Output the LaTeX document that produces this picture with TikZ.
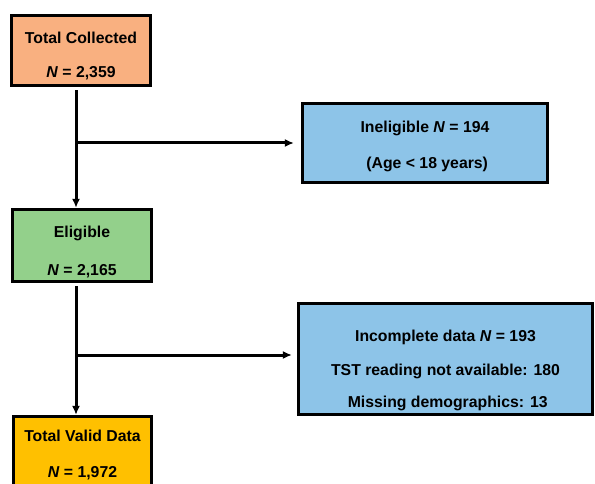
\documentclass[tikz,border=0pt]{standalone}
\usepackage{fontspec}
\setmainfont{Liberation Sans}
\usetikzlibrary{arrows.meta, calc}
\definecolor{collectfill}{HTML}{F9B080}
\definecolor{exclfill}{HTML}{8DC4E8}
\definecolor{eligfill}{HTML}{93D08B}
\definecolor{validfill}{HTML}{FFC000}
\tikzstyle{box} = [rectangle, draw=black, line width=3.2pt, text centered, align=center, font=\bfseries\fontsize{15.8}{18}\selectfont]
\tikzstyle{collected} = [box, minimum width=139pt, minimum height=70pt, fill=collectfill]
\tikzstyle{eligible} = [box, minimum width=139pt, minimum height=66pt, fill=eligfill]
\tikzstyle{valid} = [box, minimum width=138pt, minimum height=70pt, fill=validfill]
\tikzstyle{excluded} = [box, fill=exclfill]
\tikzstyle{arrow} = [line width=3pt,->,>={Latex[length=9pt,width=8pt]}]

\begin{document}
\begin{tikzpicture}[x=1pt, y=-1pt, node distance=195pt]
    \useasboundingbox (0,0) rectangle (595,484);

    \node (total) [collected] at (81,50.5) {\rule{0pt}{22pt}Total Collected\\[16pt]\textit{N} = 2,359};
    \node (elig)  [eligible, below of=total, xshift=1pt] {\rule{0pt}{25pt}Eligible\\[20pt]\textit{N} = 2,165};
    \node (valid) [valid, below of=elig, yshift=-11pt, xshift=0.5pt] {\rule{0pt}{19pt}Total Valid Data\\[18pt]\textit{N} = 1,972};

    \node (inelig) [excluded, minimum width=245pt, minimum height=79pt] at (425,143)
        {\rule{0pt}{19pt}Ineligible \textit{N} = 194\\[18pt]\ (Age < 18 years)};
    \node (incomp) [excluded, minimum width=294pt, minimum height=111pt] at (445.5,359)
        {\rule{0pt}{34pt}Incomplete data \textit{N} = 193\\[16pt]TST reading not available: 180\\[14pt]\ Missing demographics: 13};

    % trunk points below the boxes
    \coordinate (t1) at ([xshift=-5pt,yshift=-3pt]total.south);
    \coordinate (t2) at ([xshift=-6pt,yshift=-3pt]elig.south);
    \coordinate (b2) at ([yshift=4pt]incomp.west);

\draw [arrow] (t1) -- (t1 |- elig.north);
\draw [arrow] (t1 |- inelig.west) -- ([xshift=-7pt]inelig.west);

\draw [arrow] (t2) -- (t2 |- valid.north);
\draw [arrow] (t2 |- b2) -- ([xshift=-5pt]b2);

\end{tikzpicture}
\end{document}
